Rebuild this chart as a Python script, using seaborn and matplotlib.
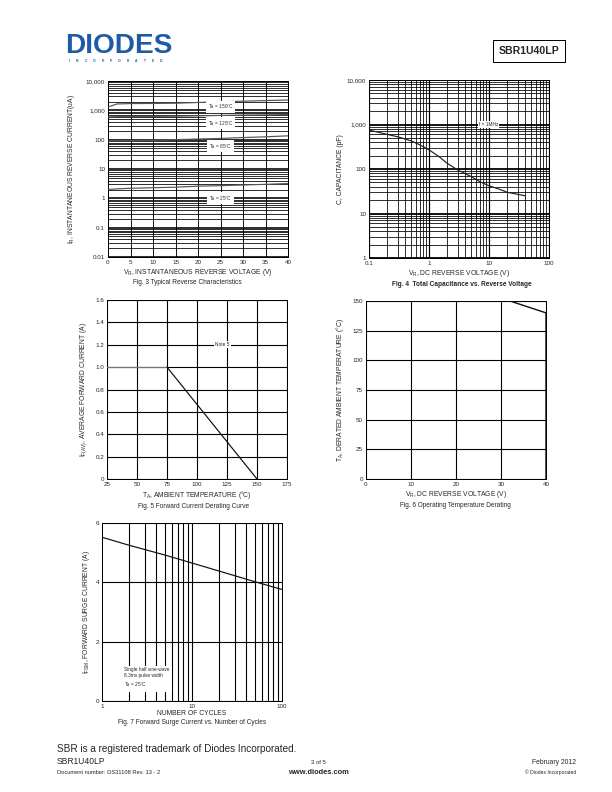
import numpy as np
import pandas as pd
import matplotlib
matplotlib.use("Agg")
import matplotlib.pyplot as plt
import seaborn as sns
from matplotlib.ticker import FixedLocator, FixedFormatter, NullFormatter, NullLocator

# ---------------- data ----------------
fig3_voltage = [0, 2, 5, 10, 15, 20, 25, 30, 35, 40]
fig3_i_150 = [1300, 1650, 1700, 1720, 1750, 1850, 1950, 2050, 2150, 2250]
fig3_i_125 = [600, 610, 615, 620, 630, 650, 670, 690, 700, 720]
fig3_i_85 = [90, 92, 93, 95, 100, 105, 110, 118, 125, 135]
fig3_i_25 = [2.0, 2.1, 2.2, 2.3, 2.4, 2.6, 2.7, 2.85, 3.0, 3.2]
fig3_labels = ["T$_A$ = 150°C", "T$_A$ = 125°C", "T$_A$ = 85°C", "T$_A$ = 25°C"]
fig3_xticks = [0, 5, 10, 15, 20, 25, 30, 35, 40]
fig3_yticks = [0.01, 0.1, 1, 10, 100, 1000, 10000]
fig3_yticklabels = ["0.01", "0.1", "1", "10", "100", "1,000", "10,000"]

fig4_voltage = [0.1, 0.2, 0.3, 0.5, 0.7, 1.0, 1.5, 2.0, 3.0, 5.0, 7.0, 10, 15, 20, 30, 40]
fig4_cap = [750, 600, 530, 430, 350, 270, 185, 135, 95, 68, 52, 42, 35, 30, 27, 25]
fig4_xticks = [0.1, 1, 10, 100]
fig4_xticklabels = ["0.1", "1", "10", "100"]
fig4_yticks = [1, 10, 100, 1000, 10000]
fig4_yticklabels = ["1", "10", "100", "1,000", "10,000"]

fig5_temp = [25, 75, 75, 150]
fig5_current = [1.0, 1.0, 1.0, 0.0]
fig5_segment = ["flat", "flat", "derate", "derate"]
fig5_xticks = [25, 50, 75, 100, 125, 150, 175]
fig5_yticks = [0, 0.2, 0.4, 0.6, 0.8, 1.0, 1.2, 1.4, 1.6]
fig5_yticklabels = ["0", "0.2", "0.4", "0.6", "0.8", "1.0", "1.2", "1.4", "1.6"]

fig6_voltage = [32, 40, 40]
fig6_temp = [150, 140, 0]
fig6_xticks = [0, 10, 20, 30, 40]
fig6_yticks = [0, 25, 50, 75, 100, 125, 150]

fig7_cycles = [1, 2, 5, 10, 20, 50, 100]
fig7_current = [5.52, 5.25, 4.92, 4.65, 4.38, 4.02, 3.76]
fig7_xticks = [1, 10, 100]
fig7_yticks = [0, 2, 4, 6]

# ---------------- style ----------------
sns.set_style("white")
plt.rcParams['font.family'] = ['Liberation Sans', 'DejaVu Sans']
plt.rcParams['mathtext.fontset'] = 'custom'
plt.rcParams['mathtext.rm'] = 'Liberation Sans'
plt.rcParams['mathtext.it'] = 'Liberation Sans'
plt.rcParams['mathtext.bf'] = 'Liberation Sans:bold'

W, H = 612, 792
fig = plt.figure(figsize=(W / 72, H / 72), dpi=72)
fig.patch.set_facecolor("white")


def rect(x0, y0, x1, y1):
    return [x0 / W, 1 - y1 / H, (x1 - x0) / W, (y1 - y0) / H]


def ftext(x, y, s, **kw):
    fig.text(x / W, 1 - y / H, s, **kw)


TICK = 6.3
LAB = 6.8
CAP = 6.5
NOTE = 4.7


def base(ax):
    for sp in ax.spines.values():
        sp.set_color("black")
        sp.set_linewidth(1.0)
    ax.tick_params(axis="both", which="both", length=0, labelsize=TICK, pad=3)


# ---------------- Fig 3 ----------------
ax3 = fig.add_axes(rect(108, 81, 288, 257))
df3 = pd.DataFrame({
    "V": fig3_voltage * 4,
    "I": fig3_i_150 + fig3_i_125 + fig3_i_85 + fig3_i_25,
    "T": sum([[l] * len(fig3_voltage) for l in fig3_labels], []),
})
ax3.set_yscale("log")
ax3.set_xlim(0, 40)
ax3.set_ylim(0.01, 10000)
minor3 = [m * 10.0 ** d for d in range(-2, 4) for m in range(2, 10)]
for y in minor3:
    ax3.axhline(y, color="black", lw=0.8, zorder=1)
for y in fig3_yticks:
    ax3.axhline(y, color="black", lw=1.6, zorder=1)
for x in fig3_xticks:
    ax3.axvline(x, color="black", lw=0.9, zorder=1)
sns.lineplot(data=df3, x="V", y="I", hue="T", palette=["#555555"] * 4,
             legend=False, ax=ax3, lw=1.2, zorder=3)
ax3.xaxis.set_major_locator(FixedLocator(fig3_xticks))
ax3.yaxis.set_major_locator(FixedLocator(fig3_yticks))
ax3.yaxis.set_major_formatter(FixedFormatter(fig3_yticklabels))
ax3.yaxis.set_minor_locator(NullLocator())
ax3.set_xlabel("V$_R$, INSTANTANEOUS REVERSE VOLTAGE (V)", fontsize=LAB, labelpad=2)
ax3.set_ylabel("I$_R$, INSTANTANEOUS REVERSE CURRENT(uA)", fontsize=LAB, labelpad=9)
base(ax3)
for lbl, yv in zip(fig3_labels, [1300, 360, 60, 1.0]):
    ax3.text(25, yv, lbl, fontsize=NOTE, ha="center", va="center", zorder=5,
             bbox=dict(facecolor="white", edgecolor="none", pad=1.5))
ftext(187, 283, "Fig. 3 Typical Reverse Characteristics", fontsize=CAP, ha="center", va="center")

# ---------------- Fig 4 ----------------
ax4 = fig.add_axes(rect(369, 80, 549, 258))
df4 = pd.DataFrame({"V": fig4_voltage, "C": fig4_cap})
ax4.set_xscale("log")
ax4.set_yscale("log")
ax4.set_xlim(0.1, 100)
ax4.set_ylim(1, 10000)
for y in [m * 10.0 ** d for d in range(0, 4) for m in range(2, 10)]:
    ax4.axhline(y, color="black", lw=0.8, zorder=1)
for y in fig4_yticks:
    ax4.axhline(y, color="black", lw=1.8, zorder=1)
for x in [m * 10.0 ** d for d in range(-1, 2) for m in range(2, 10)]:
    ax4.axvline(x, color="black", lw=0.8, zorder=1)
for x in fig4_xticks:
    ax4.axvline(x, color="black", lw=1.2, zorder=1)
sns.lineplot(data=df4, x="V", y="C", color="#222222", lw=1.2, ax=ax4, zorder=3)
ax4.xaxis.set_major_locator(FixedLocator(fig4_xticks))
ax4.xaxis.set_major_formatter(FixedFormatter(fig4_xticklabels))
ax4.xaxis.set_minor_locator(NullLocator())
ax4.yaxis.set_major_locator(FixedLocator(fig4_yticks))
ax4.yaxis.set_major_formatter(FixedFormatter(fig4_yticklabels))
ax4.yaxis.set_minor_locator(NullLocator())
ax4.set_xlabel("V$_R$, DC REVERSE VOLTAGE (V)", fontsize=LAB, labelpad=2)
ax4.set_ylabel("C, CAPACITANCE (pF)", fontsize=LAB, labelpad=3)
base(ax4)
ax4.text(9.8, 1000, "f = 1MHz", fontsize=NOTE, ha="center", va="center", zorder=5,
         bbox=dict(facecolor="white", edgecolor="none", pad=1.2))
ftext(462, 285, "Fig. 4  Total Capacitance vs. Reverse Voltage", fontsize=CAP,
      ha="center", va="center", fontweight="bold")

# ---------------- Fig 5 ----------------
ax5 = fig.add_axes(rect(107, 300, 287, 479))
df5 = pd.DataFrame({"T": fig5_temp, "I": fig5_current, "seg": fig5_segment})
ax5.set_xlim(25, 175)
ax5.set_ylim(0, 1.6)
for x in fig5_xticks:
    ax5.axvline(x, color="black", lw=1.1, zorder=1)
for y in fig5_yticks:
    ax5.axhline(y, color="black", lw=1.1, zorder=1)
sns.lineplot(data=df5, x="T", y="I", hue="seg", palette=["#777777", "#111111"],
             legend=False, ax=ax5, lw=1.2, zorder=3, sort=False, estimator=None)
ax5.xaxis.set_major_locator(FixedLocator(fig5_xticks))
ax5.yaxis.set_major_locator(FixedLocator(fig5_yticks))
ax5.yaxis.set_major_formatter(FixedFormatter(fig5_yticklabels))
ax5.set_xlabel("T$_A$, AMBIENT TEMPERATURE (°C)", fontsize=LAB, labelpad=2)
ax5.set_ylabel("I$_{F(AV)}$, AVERAGE FORWARD CURRENT (A)", fontsize=LAB, labelpad=6)
base(ax5)
ax5.text(121, 1.2, "Note 5", fontsize=NOTE, ha="center", va="center", zorder=5,
         bbox=dict(facecolor="white", edgecolor="none", pad=1.2))
ftext(194, 507, "Fig. 5 Forward Current Derating Curve", fontsize=CAP, ha="center", va="center")

# ---------------- Fig 6 ----------------
ax6 = fig.add_axes(rect(366, 301, 546, 479))
df6 = pd.DataFrame({"V": fig6_voltage, "T": fig6_temp})
ax6.set_xlim(0, 40)
ax6.set_ylim(0, 150)
for x in fig6_xticks:
    ax6.axvline(x, color="black", lw=1.1, zorder=1)
for y in fig6_yticks:
    ax6.axhline(y, color="black", lw=1.1, zorder=1)
sns.lineplot(data=df6, x="V", y="T", color="#111111", lw=1.4, ax=ax6, zorder=3,
             sort=False, estimator=None)
ax6.xaxis.set_major_locator(FixedLocator(fig6_xticks))
ax6.yaxis.set_major_locator(FixedLocator(fig6_yticks))
ax6.set_xlabel("V$_R$, DC REVERSE VOLTAGE (V)", fontsize=LAB, labelpad=2)
ax6.set_ylabel("T$_A$, DERATED AMBIENT TEMPERATURE (°C)", fontsize=LAB, labelpad=6)
base(ax6)
ftext(455, 506, "Fig. 6 Operating Temperature Derating", fontsize=CAP, ha="center", va="center")

# ---------------- Fig 7 ----------------
ax7 = fig.add_axes(rect(102, 523, 282, 701))
df7 = pd.DataFrame({"N": fig7_cycles, "I": fig7_current})
ax7.set_xscale("log")
ax7.set_xlim(1, 100)
ax7.set_ylim(0, 6)
for x in [m * 10.0 ** d for d in range(0, 2) for m in range(2, 10)] + [10]:
    ax7.axvline(x, color="black", lw=1.1, zorder=1)
for y in fig7_yticks:
    ax7.axhline(y, color="black", lw=1.1, zorder=1)
sns.lineplot(data=df7, x="N", y="I", color="#111111", lw=1.2, ax=ax7, zorder=3)
ax7.xaxis.set_major_locator(FixedLocator(fig7_xticks))
ax7.xaxis.set_major_formatter(FixedFormatter(["1", "10", "100"]))
ax7.xaxis.set_minor_locator(NullLocator())
ax7.yaxis.set_major_locator(FixedLocator(fig7_yticks))
ax7.set_xlabel("NUMBER OF CYCLES", fontsize=LAB, labelpad=1)
ax7.set_ylabel("I$_{FSM}$, FORWARD SURGE CURRENT (A)", fontsize=LAB, labelpad=3)
base(ax7)
ax7.text(1.75, 0.78, "Single half sine-wave\n8.3ms pulse width\nT$_A$ = 25°C", fontsize=NOTE,
         ha="left", va="center", zorder=5, linespacing=1.3,
         bbox=dict(facecolor="white", edgecolor="none", pad=3))
ftext(192, 723, "Fig. 7 Forward Surge Current vs. Number of Cycles", fontsize=CAP,
      ha="center", va="center")

# ---------------- header / footer ----------------
ftext(65, 46, "DIODES", fontsize=28, fontweight="bold", color="#1f5aa6",
      ha="left", va="center")
for i, ch in enumerate("INCORPORATED"):
    ftext(69 + i * 8.4, 61, ch, fontsize=3.4, color="#1f5aa6",
          ha="center", va="center", fontweight="bold")
ftext(529, 51, "SBR1U40LP", fontsize=10.5, fontweight="bold", ha="center", va="center",
      bbox=dict(facecolor="white", edgecolor="black", lw=1.0, boxstyle="square,pad=0.55"))

ftext(57, 749, "SBR is a registered trademark of Diodes Incorporated.", fontsize=10,
      ha="left", va="center")
ftext(57, 762, "SBR1U40LP", fontsize=8.5, ha="left", va="center")
ftext(57, 773, "Document number: DS31108 Rev. 13 - 2", fontsize=5.8, ha="left", va="center")
ftext(318, 763, "3 of 5", fontsize=6, ha="center", va="center")
ftext(318, 773, "www.diodes.com", fontsize=7.5, ha="center", va="center", fontweight="bold")
ftext(576, 763, "February 2012", fontsize=6.8, ha="right", va="center")
ftext(576, 772, "© Diodes Incorporated", fontsize=5, ha="right", va="center")

fig.savefig("out.png", dpi=72, facecolor="white")
